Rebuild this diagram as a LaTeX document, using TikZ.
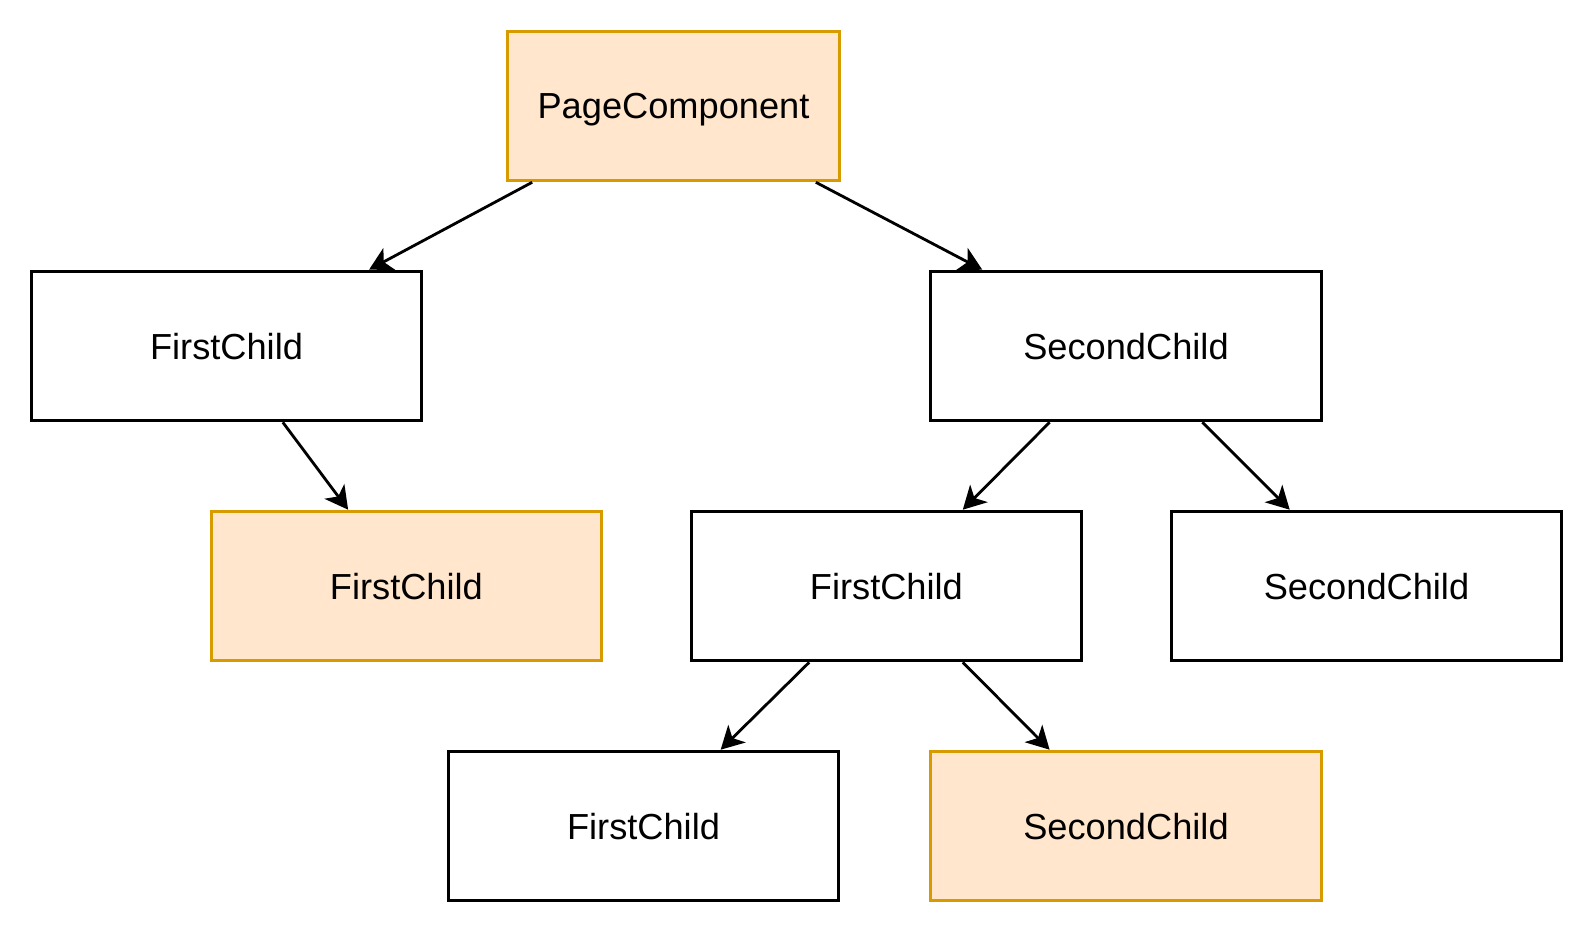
\documentclass[tikz,border=0pt]{standalone}
\usepackage{fontspec}
\setmainfont{Liberation Sans}
\usetikzlibrary{arrows.meta, calc}
\definecolor{dorange}{RGB}{215,155,0}
\definecolor{lorange}{RGB}{255,230,204}

\begin{document}
\begin{tikzpicture}[
  x=0.01cm,y=-0.01cm,
  font=\fontsize{10.3}{12}\selectfont,
  comp/.style={draw=black,fill=white,line width=0.85pt,text depth=0pt,
               minimum width=3.905cm,minimum height=1.495cm,align=center},
  hit/.style={comp,draw=dorange,fill=lorange},
  arr/.style={-{Stealth[length=6.5pt,width=7pt,inset=1.8pt]},line width=0.8pt,color=black}
]
  \useasboundingbox (0,0) rectangle (1593,933);
  \node[hit,minimum width=3.31cm] (page) at (673.5,106) {PageComponent};
  \node[comp] (first) at (226.5,346) {FirstChild};
  \node[comp] (second) at (1126,346) {SecondChild};
  \node[hit] (firstA) at (406.4,586) {FirstChild};
  \node[comp] (firstB) at (886.4,586) {FirstChild};
  \node[comp] (secondB) at (1366.5,586) {SecondChild};
  \node[comp] (firstC) at (643.5,826) {FirstChild};
  \node[hit] (secondC) at (1126,826) {SecondChild};

  \draw[arr] ($(page.south west)!0.077!(page.south east)$)--($(first.north west)!0.862!(first.north east)$);
  \draw[arr] ($(page.south west)!0.926!(page.south east)$)--($(second.north west)!0.135!(second.north east)$);
  \draw[arr] ($(first.south west)!0.643!(first.south east)$)--($(firstA.north west)!0.352!(firstA.north east)$);
  \draw[arr] ($(second.south west)!0.306!(second.south east)$)--($(firstB.north west)!0.694!(firstB.north east)$);
  \draw[arr] ($(second.south west)!0.694!(second.south east)$)--($(secondB.north west)!0.305!(secondB.north east)$);
  \draw[arr] ($(firstB.south west)!0.304!(firstB.south east)$)--($(firstC.north west)!0.696!(firstC.north east)$);
  \draw[arr] ($(firstB.south west)!0.694!(firstB.south east)$)--($(secondC.north west)!0.306!(secondC.north east)$);
\end{tikzpicture}
\end{document}
